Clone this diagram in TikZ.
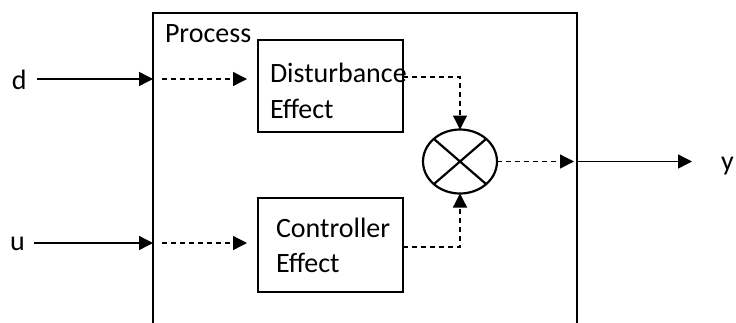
\documentclass[tikz,border=0pt]{standalone}
\usepackage{fontspec}
\setmainfont{Carlito}
\usetikzlibrary{arrows.meta,shapes.geometric}
\begin{document}
\begin{tikzpicture}[x=1pt,y=-1pt,
  txt/.style={inner sep=0pt,outer sep=0pt,font=\fontsize{28}{34}\selectfont,anchor=base west},
  blk/.style={draw,line width=2.2pt,inner sep=0pt,outer sep=0pt},
  sarrow/.style={line width=1.4pt,-{Triangle[length=14pt,width=14pt]}},
  darrow/.style={line width=1.3pt,dash pattern=on 5pt off 4pt,-{Triangle[length=14pt,width=14pt]}}]
\fill[white] (0,0) rectangle (736,322);
\useasboundingbox (0,0) rectangle (736,322);
% boxes
\node[blk,minimum width=424pt,minimum height=340pt,anchor=north west] (proc) at (153,13) {};
\node[txt] (ptxt) at (165,42) {Process};
\node[blk,minimum width=145pt,minimum height=92pt] (dist) at (330.5,86) {};
\node[txt] (dist1) at (270,82) {Disturbance};
\node[txt] (dist2) at (270,118) {Effect};
\node[blk,minimum width=145pt,minimum height=94pt] (ctrl) at (330.5,245) {};
\node[txt] (ctrl1) at (276,237) {Controller};
\node[txt] (ctrl2) at (276,272) {Effect};
\node[draw,line width=2.2pt,ellipse,inner sep=0pt,outer sep=0pt,minimum width=74pt,minimum height=64pt] (sum) at (460,161.5) {};
\draw[line width=2.2pt] (sum.north west) -- (sum.south east);
\draw[line width=2.2pt] (sum.north east) -- (sum.south west);
% signal labels
\node[txt] (d) at (12,89) {d};
\node[txt] (u) at (10,250) {u};
\node[txt] (y) at (721,170) {y};
% inputs
\coordinate (dStart) at (37,79);
\coordinate (uStart) at (34,243);
\draw[sarrow] (dStart) -- (dStart -| proc.west);
\draw[sarrow] (uStart) -- (uStart -| proc.west);
\draw[darrow] ([xshift=9pt]dStart -| proc.west) -- ([xshift=-11pt]dStart -| dist.west);
\draw[darrow] ([xshift=9pt]uStart -| proc.west) -- ([xshift=-11pt]uStart -| ctrl.west);
% to summing junction
\draw[darrow] ([yshift=9pt]dist.east) -| (sum.north);
\draw[darrow] ([yshift=-2pt]ctrl.east) -| (sum.south);
% output
\draw[darrow] (sum.east) -- ([xshift=-3pt]sum.east -| proc.east);
\coordinate (yEnd) at (692,161.5);
\draw[sarrow] (sum.east -| proc.east) -- (yEnd);
\end{tikzpicture}
\end{document}
